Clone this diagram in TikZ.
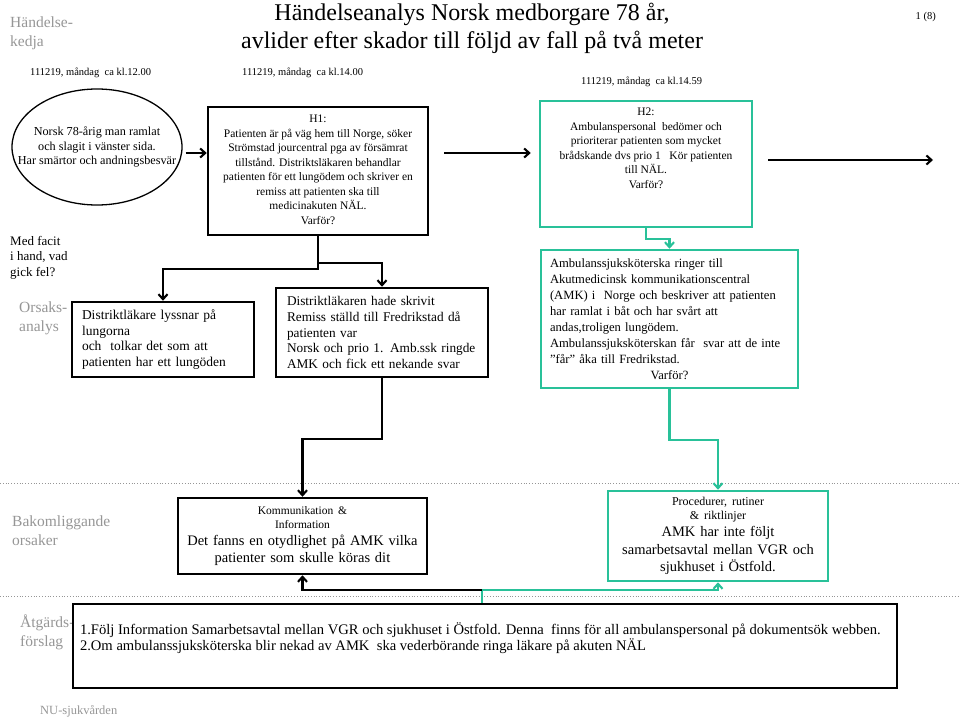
\documentclass[tikz,border=0pt]{standalone}
\usepackage{fontspec}
\setmainfont{Liberation Serif}
\usetikzlibrary{shapes.geometric,arrows.meta}
\definecolor{nuteal}{RGB}{41,193,153}
\definecolor{labelgray}{RGB}{150,150,150}
\newcommand\fsz[2]{\fontsize{#1}{#2}\selectfont}
\tikzset{
  >={Straight Barb[length=5pt,width=9pt]},
  evbox/.style={draw,line width=2.5pt,inner sep=4pt},
  tealbox/.style={evbox,draw=nuteal},
  conn/.style={line width=2.1pt,->},
  tealconn/.style={conn,draw=nuteal},
  lbl/.style={anchor=north west,inner sep=0pt,align=left},
  graylbl/.style={lbl,text=labelgray,font=\fsz{15.5}{19}},
  datelbl/.style={lbl,font=\fsz{10.5}{12}},
  sepline/.style={draw=labelgray,dotted,line width=0.8pt}
}
\begin{document}
\begin{tikzpicture}[x=1pt,y=-1pt]
    \useasboundingbox (0,0) rectangle (960,720);
    \foreach \y in {483,596}
        \draw[sepline] (0,\y) -- (960,\y);
    % headings and times
    \node[graylbl] (chain) at (10,17) {Händelse-\\kedja};
    \node[anchor=north,inner sep=0pt,align=center,font=\fsz{24}{28}] (title) at (472,3)
        {Händelseanalys Norsk medborgare 78 år,\\avlider efter skador till följd av fall på två meter};
    \node[lbl,anchor=north east,font=\fsz{10.5}{12}] (page) at (936,12) {1 (8)};
    \node[datelbl] (t1) at (30,68) {111219, måndag\ \ ca kl.12.00};
    \node[datelbl] (t2) at (242,68) {111219, måndag\ \ ca kl.14.00};
    \node[datelbl] (t3) at (581,77) {111219, måndag\ \ ca kl.14.59};
    \node[lbl,font=\fsz{13}{15.5}] (facit) at (10,236) {Med facit\\i hand, vad\\gick fel?};
    \node[graylbl] (cause) at (19,302) {Orsaks-\\analys};
    \node[graylbl] (root) at (12,516) {Bakomliggande\\orsaker};
    \node[graylbl] (action) at (20,615) {Åtgärds-\\förslag};
    \node[lbl,text=labelgray,font=\fsz{12.5}{15}] (org) at (40,705) {NU-sjukvården};
    % event chain
    \node[ellipse,draw,line width=1.3pt,minimum width=170pt,minimum height=116pt] (fall) at (97,147) {};
    \node[inner sep=0pt,align=center,font=\fsz{12.2}{14.5}] (falltext) at (fall.center)
        {Norsk 78-årig man ramlat\\och slagit i vänster sida.\\Har smärtor och andningsbesvär};
    \node[evbox] (h1) at (318,171) {\parbox[c][120pt][t]{212pt}{\vspace*{4pt}\centering\fsz{11.5}{14.5}%
        H1:\\Patienten är på väg hem till Norge, söker\\Strömstad jourcentral pga av försämrat\\%
        tillstånd. Distriktsläkaren behandlar\\patienten för ett lungödem och skriver en\\%
        remiss att patienten ska till\\medicinakuten NÄL.\\Varför?}};
    \node[tealbox] (h2) at (646,164) {\parbox[c][118pt][t]{204pt}{\vspace*{3pt}\centering\fsz{11.5}{14.5}%
        H2:\\Ambulanspersonal\ \ bedömer och\\prioriterar patienten som mycket\\%
        brådskande dvs prio 1\ \ \ Kör patienten\\till NÄL.\\Varför?}};
    % causes
    \node[evbox,text width=162pt,inner xsep=10pt,minimum height=75pt,align=left,font=\fsz{13.5}{15.6}] (d1) at (163,339.5)
        {Distriktläkare lyssnar på\\lungorna\\och\ \ tolkar det som att\\patienten har ett lungöden};
    \node[evbox,text width=190pt,inner xsep=11pt,minimum height=89pt,align=left,font=\fsz{13.3}{15.7}] (d2) at (382,332.5)
        {Distriktläkaren hade skrivit\\Remiss ställd till Fredrikstad då\\patienten var\\Norsk och prio 1. Amb.ssk ringde\\AMK och fick ett nekande svar};
    \node[tealbox,text width=239pt,inner xsep=9pt,minimum height=138pt,align=left,font=\fsz{12.6}{16}] (d3) at (669.5,319)
        {Ambulanssjuksköterska ringer till\\Akutmedicinsk kommunikationscentral\\(AMK) i\ \ Norge och beskriver att patienten\\%
        har ramlat i båt och har svårt att\\andas,troligen lungödem.\\Ambulanssjuksköterskan får\ \ svar att de inte\\%
        ”får” åka till Fredrikstad.\par{\centering Varför?\par}};
    % root causes
    \node[evbox,text width=241pt,minimum height=76pt,align=center,font=\fsz{14.5}{17}] (kom) at (302.5,536)
        {{\fsz{11.5}{14}Kommunikation \&\\Information\par}Det fanns en otydlighet på AMK vilka\\patienter som skulle köras dit};
    \node[tealbox,text width=212pt,minimum height=90pt,align=center,font=\fsz{14.5}{17.5}] (proc) at (718,536)
        {{\fsz{12}{14}Procedurer, rutiner\\\&\ riktlinjer\par}AMK har inte följt\\samarbetsavtal mellan VGR och\\sjukhuset i Östfold.};
    \node[evbox,inner xsep=7pt] (atg) at (485,646) {\parbox[c][76pt][t]{810pt}{\vspace*{15pt}\raggedright\fsz{14.6}{16}%
        1.Följ Information Samarbetsavtal mellan VGR och sjukhuset i Östfold. Denna\ \ finns för all ambulanspersonal på dokumentsök webben.\\%
        2.Om ambulanssjuksköterska blir nekad av AMK\ \ ska vederbörande ringa läkare på akuten NÄL}};
    % connectors
    \coordinate (arrowrow) at (0,153);
    \coordinate (nextstep) at (933,160);
    \coordinate (split) at (482,590);
    \draw[conn,shorten <=3pt] (fall.east |- arrowrow) -- (h1.west |- arrowrow);
    \draw[conn,shorten <=15pt,shorten >=8pt] (h1.east |- arrowrow) -- (h2.west |- arrowrow);
    \draw[conn,shorten <=15pt] (h2.east |- nextstep) -- (nextstep);
    \draw[conn] (h1.south) -- ++(0,33) -| (d1.north);
    \draw[conn] (h1.south) -- ++(0,27) -| (d2.north);
    \draw[tealconn] (h2.south) -- ++(0,11) -| (d3.north);
    \draw[conn] (d2.south) -- ++(0,61) -| (kom.north);
    \draw[tealconn] (d3.south) -- ++(0,51) -| (proc.north);
    \draw[nuteal,line width=2.1pt] (atg.north -| split) -- (split);
    \draw[conn] (split) -| (kom.south);
    \draw[tealconn] (split) -| (proc.south);
\end{tikzpicture}
\end{document}
